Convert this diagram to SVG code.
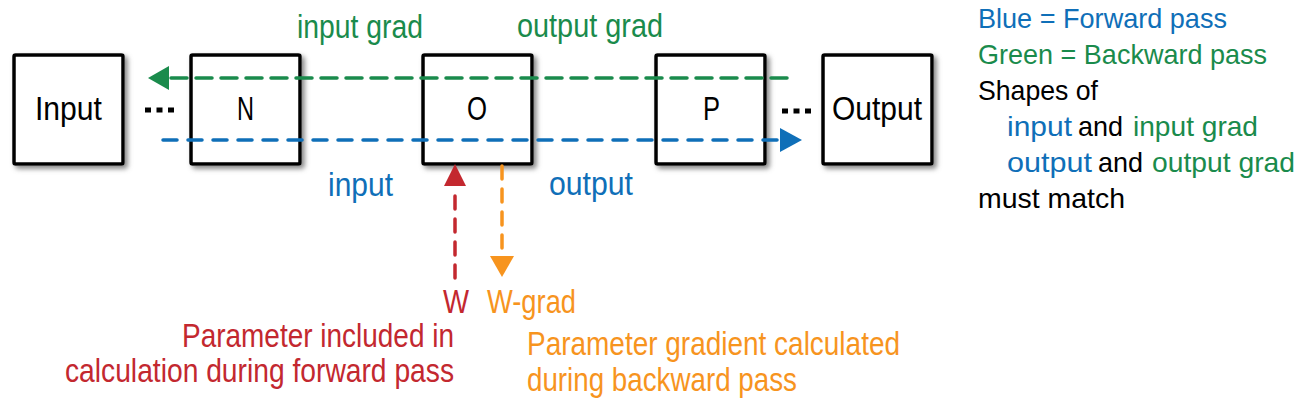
<svg xmlns="http://www.w3.org/2000/svg" width="1300" height="400" viewBox="0 0 1300 400">
<style>
text{font-family:"Liberation Sans",Arial,sans-serif;font-size:33px}
.lg{font-size:28.5px}
.k{fill:#000}
.b{fill:#0f6fb8}
.g{fill:#1a8b4c}
.r{fill:#c3282f}
.o{fill:#f7941e}
.box{fill:#fff;stroke:#000;stroke-width:3.5;filter:url(#sh)}
.dash{fill:none;stroke-width:3.5;stroke-linecap:round}
.dots{fill:none;stroke:#000;stroke-width:5;stroke-dasharray:6 5.5}
</style>
<defs>
<filter id="sh" x="-20%" y="-20%" width="150%" height="150%">
<feDropShadow dx="3" dy="3" stdDeviation="2.5" flood-color="#7a7a7a" flood-opacity="0.9"/>
</filter>
</defs>
<rect width="1300" height="400" fill="#fff"/>
<g id="node-input"><rect class="box" x="14" y="55" width="109" height="109" rx="1.5"/><text class="k" x="35" y="120" textLength="67" lengthAdjust="spacingAndGlyphs">Input</text></g>
<g id="node-n"><rect class="box" x="191" y="55" width="109" height="109" rx="1.5"/><text class="k" x="237" y="120" textLength="17" lengthAdjust="spacingAndGlyphs">N</text></g>
<g id="node-o"><rect class="box" x="423" y="55" width="109" height="109" rx="1.5"/><text class="k" x="467" y="120" textLength="20" lengthAdjust="spacingAndGlyphs">O</text></g>
<g id="node-p"><rect class="box" x="656" y="55" width="109" height="109" rx="1.5"/><text class="k" x="703" y="120" textLength="17" lengthAdjust="spacingAndGlyphs">P</text></g>
<g id="node-output"><rect class="box" x="823" y="55" width="109" height="109" rx="1.5"/><text class="k" x="832" y="120" textLength="90" lengthAdjust="spacingAndGlyphs">Output</text></g>
<g id="connectors">
<line class="dots" x1="145" y1="110" x2="175" y2="110"/>
<line class="dots" x1="782" y1="111" x2="812" y2="111"/>
<line class="dash" x1="787" y1="78" x2="170" y2="78" stroke="#1a8b4c" stroke-dasharray="16 9"/>
<polygon points="148,78 169,66 169,90" fill="#1a8b4c"/>
<line class="dash" x1="163" y1="140" x2="778" y2="140" stroke="#0f6fb8" stroke-dasharray="14 11"/>
<polygon points="802,140 780,128 780,152" fill="#0f6fb8"/>
<line class="dash" x1="455" y1="278" x2="455" y2="187" stroke="#c3282f" stroke-dasharray="13 10"/>
<polygon points="455,164 444,186 466,186" fill="#c3282f"/>
<line class="dash" x1="502" y1="166" x2="502" y2="255" stroke="#f7941e" stroke-dasharray="13 10"/>
<polygon points="502,277 490,256 514,256" fill="#f7941e"/>
</g>
<g id="labels">
<text class="g" x="297" y="38" textLength="126" lengthAdjust="spacingAndGlyphs">input grad</text>
<text class="g" x="517" y="37" textLength="146" lengthAdjust="spacingAndGlyphs">output grad</text>
<text class="b" x="328" y="196" textLength="65" lengthAdjust="spacingAndGlyphs">input</text>
<text class="b" x="549" y="195" textLength="84" lengthAdjust="spacingAndGlyphs">output</text>
<text class="r" x="443" y="313" textLength="26" lengthAdjust="spacingAndGlyphs">W</text>
<text class="o" x="487" y="313" textLength="89" lengthAdjust="spacingAndGlyphs">W-grad</text>
<text class="r" x="182" y="347" textLength="272" lengthAdjust="spacingAndGlyphs">Parameter included in</text>
<text class="r" x="65" y="382" textLength="389" lengthAdjust="spacingAndGlyphs">calculation during forward pass</text>
<text class="o" x="527" y="355" textLength="373" lengthAdjust="spacingAndGlyphs">Parameter gradient calculated</text>
<text class="o" x="527" y="391" textLength="270" lengthAdjust="spacingAndGlyphs">during backward pass</text>
</g>
<g id="legend">
<text class="b lg" x="978" y="28" textLength="249" lengthAdjust="spacingAndGlyphs">Blue = Forward pass</text>
<text class="g lg" x="978" y="64" textLength="289" lengthAdjust="spacingAndGlyphs">Green = Backward pass</text>
<text class="k lg" x="978" y="100" textLength="120" lengthAdjust="spacingAndGlyphs">Shapes of</text>
<text class="b lg" x="1007" y="136" textLength="65" lengthAdjust="spacingAndGlyphs">input</text>
<text class="k lg" x="1078" y="136" textLength="45" lengthAdjust="spacingAndGlyphs">and</text>
<text class="g lg" x="1133" y="136" textLength="125" lengthAdjust="spacingAndGlyphs">input grad</text>
<text class="b lg" x="1007" y="172" textLength="85" lengthAdjust="spacingAndGlyphs">output</text>
<text class="k lg" x="1098" y="172" textLength="45" lengthAdjust="spacingAndGlyphs">and</text>
<text class="g lg" x="1152" y="172" textLength="143" lengthAdjust="spacingAndGlyphs">output grad</text>
<text class="k lg" x="978" y="208" textLength="147" lengthAdjust="spacingAndGlyphs">must match</text>
</g>
</svg>
